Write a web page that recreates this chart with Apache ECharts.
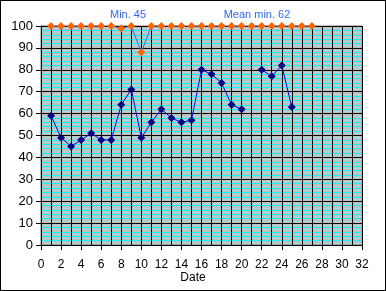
<!DOCTYPE html>
<html><head><meta charset="utf-8">
<script src="https://cdn.jsdelivr.net/npm/echarts@6/dist/echarts.min.js"></script>
<style>html,body{margin:0;padding:0;background:#fff}#c{width:386px;height:291px;box-sizing:border-box;border:1px solid #000}</style>
</head><body><div id="c"></div>
<script>
const minDays = [1,2,3,4,5,6,7,8,9,10,11,12,13,14,15,16,17,18,19,20,22,23,24,25];
const minValues = [59,49,45,48,51,48,48,64,71,49,56,62,58,56,57,80,78,74,64,62,80,77,82,63];
const topDays = [1,2,3,4,5,6,7,8,9,10,11,12,13,14,15,16,17,18,19,20,21,22,23,24,25,26,27];
const topValues = [100,100,100,100,100,100,100,99,100,88,100,100,100,100,100,100,100,100,100,100,100,100,100,100,100,100,100];
const xTicks = [0,32,2];
const yTicks = [0,100,10];
const annMin = 'Min. 45';
const annMean = 'Mean min. 62';
const xTitle = 'Date';

const minData = [];
for (let d = 1; d <= 25; d++) {
  const k = minDays.indexOf(d);
  minData.push(k >= 0 ? [d, minValues[k]] : [d, null]);
}
const topData = topDays.map((d,i)=>[d, topValues[i]]);

const hiddenY = (interval, color) => ({type:'value',min:yTicks[0],max:yTicks[1],interval:interval,position:'left',
  axisLine:{show:false},axisTick:{show:false},axisLabel:{show:false},
  splitLine:{show:true,lineStyle:{color:color,width:1}}});

const chart = echarts.init(document.getElementById('c'));
chart.setOption({
  animation:false,
  backgroundColor:'#fff',
  textStyle:{fontFamily:'Liberation Sans'},
  grid:{left:40,right:23,top:25,bottom:45,outerBoundsMode:'none',containLabel:false,show:true,backgroundColor:'#c0c0c0',borderColor:'#808080',borderWidth:1},
  graphic:[
    {type:'text',x:127,y:14,style:{text:annMin,fill:'#3366ff',font:'11px Liberation Sans',textAlign:'center',textVerticalAlign:'middle'}},
    {type:'text',x:256,y:14,style:{text:annMean,fill:'#3366ff',font:'11px Liberation Sans',textAlign:'center',textVerticalAlign:'middle'}},
    {type:'text',x:192,y:277,style:{text:xTitle,fill:'#000',font:'12px Liberation Sans',textAlign:'center',textVerticalAlign:'middle'}}
  ],
  xAxis:{type:'value',min:xTicks[0],max:xTicks[1],interval:xTicks[2],
    axisLine:{show:true,onZero:false,lineStyle:{color:'#000'}},
    axisTick:{show:true,length:5,lineStyle:{color:'#000'}},
    axisLabel:{color:'#000',fontSize:12,margin:14},
    splitLine:{show:true,lineStyle:{color:'#000',width:1}},
    minorTick:{show:false,splitNumber:2},
    minorSplitLine:{show:true,lineStyle:{color:'#000',width:1}}
  },
  yAxis:[
    hiddenY(1,'#a4dada'),
    {type:'value',min:yTicks[0],max:yTicks[1],interval:yTicks[2],position:'left',
    axisLine:{show:true,lineStyle:{color:'#000'}},
    axisTick:{show:true,length:5,lineStyle:{color:'#000'}},
    axisLabel:{color:'#000',fontSize:13,margin:8},
    splitLine:{show:true,lineStyle:{color:'#000',width:1}},
    minorTick:{show:false,splitNumber:5},
    minorSplitLine:{show:true,lineStyle:{color:'#00ffff',width:1}}
  }],
  series:[
    {type:'line',yAxisIndex:1,data:topData,symbol:'diamond',symbolSize:8,
     lineStyle:{color:'#3366ff',width:1},itemStyle:{color:'#ff6600'},z:3},
    {type:'line',yAxisIndex:1,data:minData,connectNulls:false,symbol:'diamond',symbolSize:8,
     lineStyle:{color:'#0000ff',width:1},itemStyle:{color:'#000080'},z:4}
  ]
});
</script></body></html>
